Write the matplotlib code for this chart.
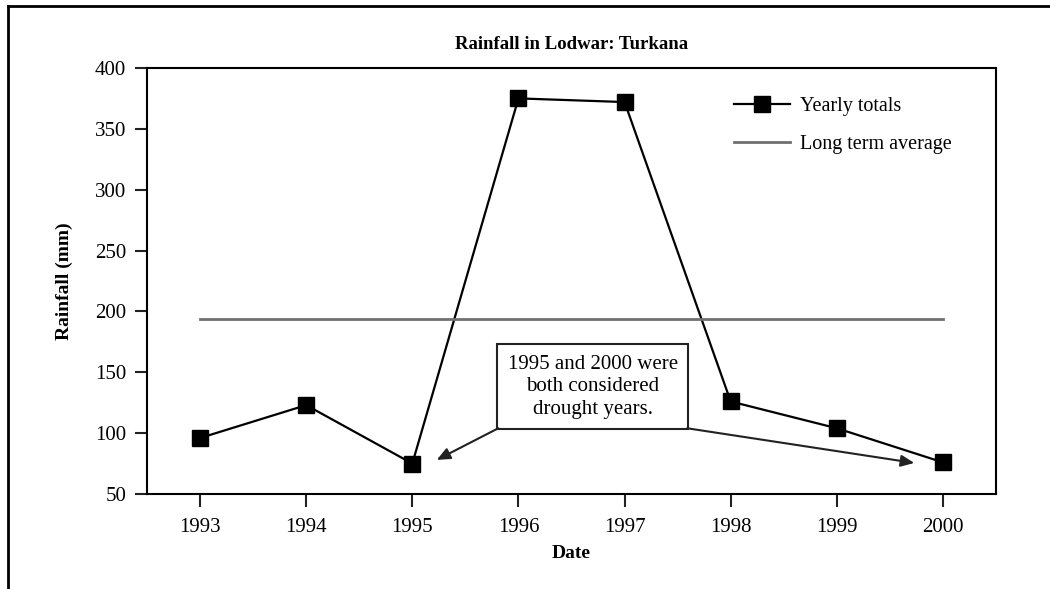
import numpy as np
import matplotlib.pyplot as plt
from matplotlib.lines import Line2D

plt.rcParams['font.family'] = ['Liberation Serif', 'DejaVu Serif']

# Data
years = [1993, 1994, 1995, 1996, 1997, 1998, 1999, 2000]
rainfall = [96, 123, 75, 375, 372, 126, 104, 76]
long_term_avg = 194
yticks = [50, 100, 150, 200, 250, 300, 350, 400]

fig = plt.figure(figsize=(10.5, 5.89), dpi=100)
ax = fig.add_axes([0.14, 0.1613, 0.8086, 0.7233])

ax.plot(years, rainfall, color='black', lw=1.6, marker='s', ms=11,
        markerfacecolor='black', markeredgecolor='black', label='Yearly totals')
ax.plot([years[0], years[-1]], [long_term_avg, long_term_avg], color='#707070',
        lw=2, label='Long term average')

ax.set_xlim(1992.5, 2000.5)
ax.set_ylim(50, 400)
ax.set_xticks(years)
ax.set_yticks(yticks)
ax.tick_params(axis='both', labelsize=15, width=1.5, color='#222222')
ax.tick_params(axis='x', length=9, pad=8)
ax.tick_params(axis='y', length=9, pad=6)
for s in ax.spines.values():
    s.set_linewidth(1.5)

ax.set_title('Rainfall in Lodwar: Turkana', fontsize=13.5, fontweight='bold', pad=14)
ax.set_xlabel('Date', fontsize=14, fontweight='bold', labelpad=6)
ax.set_ylabel('Rainfall (mm)', fontsize=14, fontweight='bold', labelpad=16)

ax.legend(loc='upper left', bbox_to_anchor=(0.67, 0.975), frameon=False,
          fontsize=14.5, handlelength=2.8, labelspacing=0.95, handletextpad=0.5)

# Annotation box with two arrows
ax.text(1996.7, 138, '1995 and 2000 were\nboth considered\ndrought years.',
        ha='center', va='center', fontsize=15, linespacing=1.25,
        bbox=dict(boxstyle='square,pad=0.5', fc='white', ec='#222222', lw=1.5))
ax.annotate('', xy=(1995.23, 78), xytext=(1995.81, 104),
            arrowprops=dict(arrowstyle='-|>,head_length=0.8,head_width=0.35',
                            color='#222222', lw=1.5, shrinkA=0, shrinkB=0))
ax.annotate('', xy=(1999.73, 75.5), xytext=(1997.59, 104),
            arrowprops=dict(arrowstyle='-|>,head_length=0.8,head_width=0.35',
                            color='#222222', lw=1.5, shrinkA=0, shrinkB=0))

# Outer frame (top and left edges)
fig.add_artist(Line2D([8 / 1050, 1.0], [1 - 6 / 589, 1 - 6 / 589],
                      transform=fig.transFigure, color='black', lw=2))
fig.add_artist(Line2D([8 / 1050, 8 / 1050], [0.0, 1 - 6 / 589],
                      transform=fig.transFigure, color='black', lw=2))

fig.savefig('out.png', dpi=100)
